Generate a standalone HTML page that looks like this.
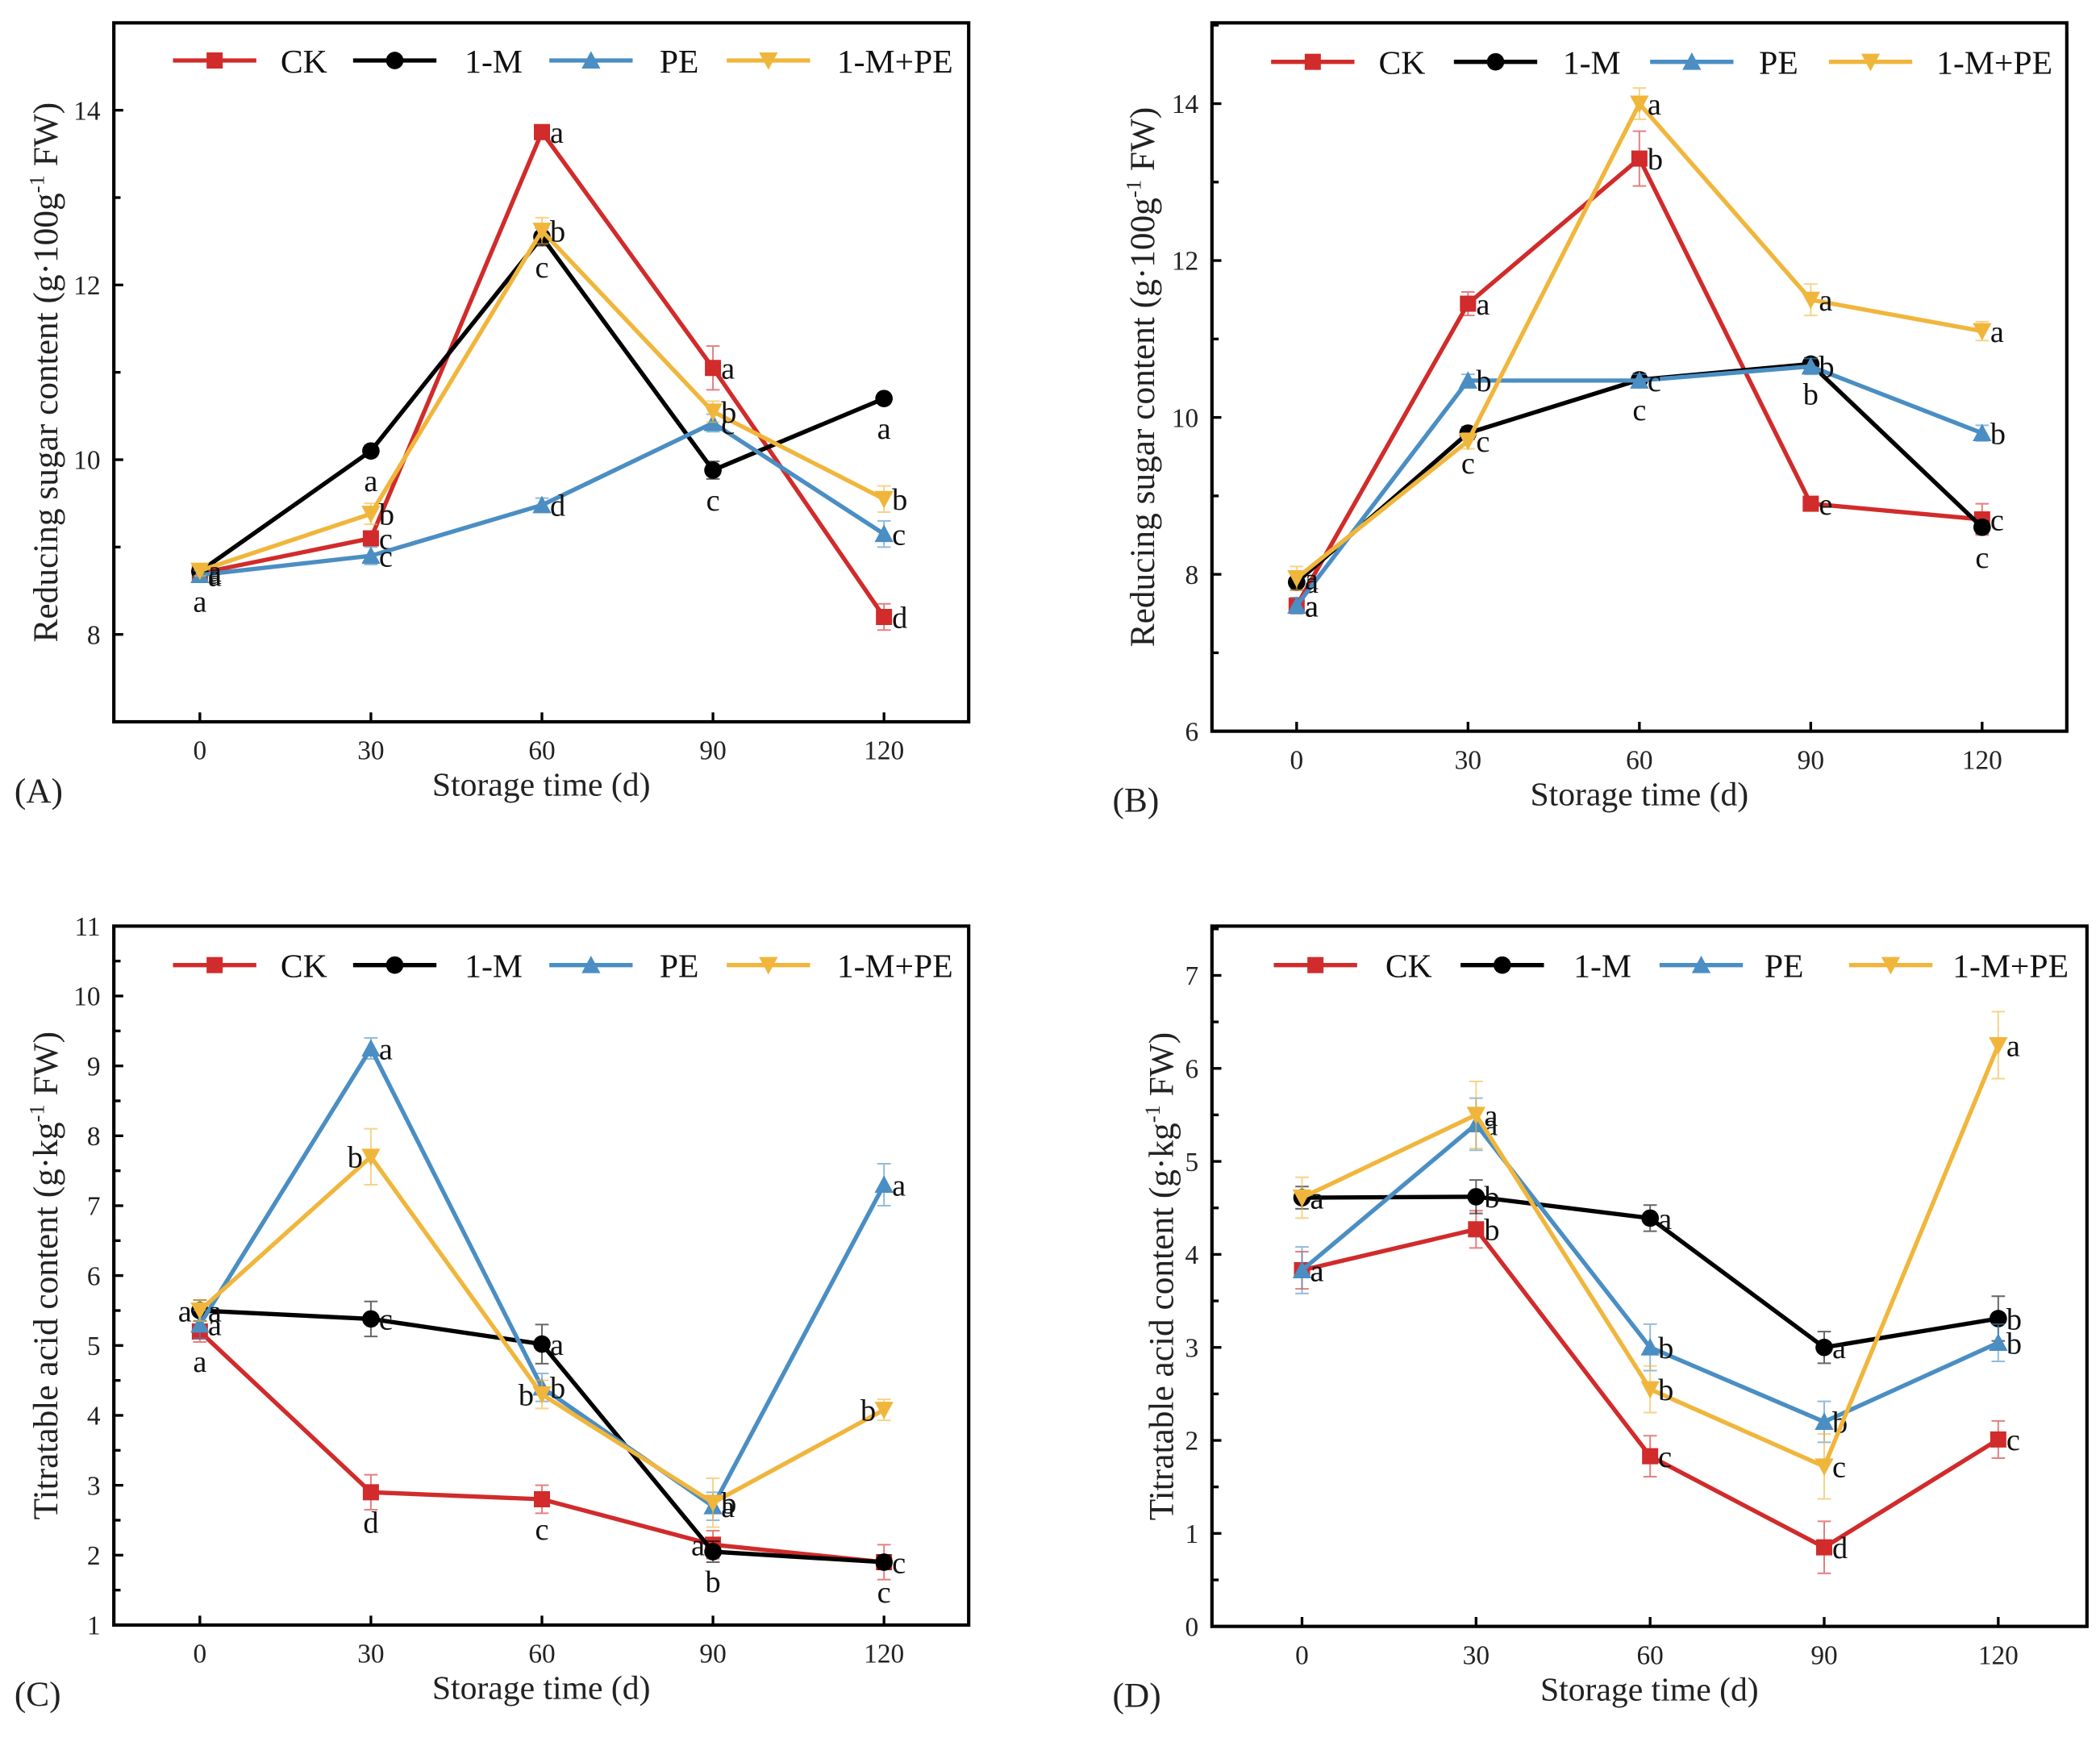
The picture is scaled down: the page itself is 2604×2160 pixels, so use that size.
<!DOCTYPE html>
<html><head><meta charset="utf-8"><style>
html,body{margin:0;padding:0;background:#fff;}
svg{display:block;}
text{font-family:"Liberation Serif","DejaVu Serif",serif;}
</style></head><body>
<svg id="fig" xmlns="http://www.w3.org/2000/svg" width="2604" height="2160" viewBox="0 0 1561 1296"></svg>
<script>
const seriesNames = ["CK","1-M","PE","1-M+PE"];
const days = [0,30,60,90,120];
const xTickLabels = ["0","30","60","90","120"];

const aCK = [8.70, 9.10, 13.75, 11.05, 8.20];
const aM  = [8.72, 10.10, 12.55, 9.88, 10.70];
const aPE = [8.68, 8.90, 9.48, 10.42, 9.15];
const aMP = [8.73, 9.38, 12.62, 10.55, 9.55];
const aErr = [[0.05,0.08,0.06,0.25,0.15],[0.05,0.06,0.1,0.1,0.06],[0.05,0.1,0.08,0.1,0.15],[0.06,0.12,0.15,0.12,0.15]];
const aLetters = [["a","c","a","a","d"],["a","a","c","c","a"],["a","c","d","c","c"],["a","b","b","b","b"]];
const aPos = [["r","r","r","r","r"],["b","b","b","b","b"],["r","r","r","r","r"],["r","r","r","r","r"]];

const bCK = [7.60, 11.45, 13.30, 8.90, 8.70];
const bM  = [7.90, 9.80, 10.48, 10.68, 8.60];
const bPE = [7.60, 10.47, 10.47, 10.65, 9.80];
const bMP = [7.95, 9.70, 14.00, 11.50, 11.10];
const bErr = [[0.1,0.15,0.35,0.08,0.2],[0.1,0.08,0.08,0.08,0.08],[0.1,0.08,0.08,0.1,0.1],[0.15,0.1,0.2,0.2,0.12]];
const bLetters = [["a","a","b","e","c"],["a","c","c","b","c"],["a","b","c","b","b"],["a","c","a","a","a"]];
const bPos = [["r","r","r","r","r"],["r","b","b","b","b"],["r","r","r","r","r"],["r","r","r","r","r"]];

const cCK = [5.20, 2.90, 2.80, 2.15, 1.90];
const cM  = [5.50, 5.38, 5.02, 2.05, 1.90];
const cPE = [5.30, 9.25, 4.40, 2.70, 7.30];
const cMP = [5.50, 7.70, 4.30, 2.75, 4.08];
const cErr = [[0.15,0.25,0.2,0.2,0.25],[0.15,0.25,0.28,0.15,0.1],[0.2,0.15,0.2,0.2,0.3],[0.15,0.4,0.2,0.35,0.15]];
const cLetters = [["a","d","c","a","c"],["a","c","a","b","c"],["a","a","b","a","a"],["a","b","b","b","b"]];
const cPos = [["b","b","b","l","b"],["l","r","r","b","r"],["r","r","r","r","r"],["r","l","l","r","l"]];

const dCK = [3.83, 4.27, 1.83, 0.85, 2.01];
const dM  = [4.61, 4.62, 4.39, 3.00, 3.31];
const dPE = [3.83, 5.40, 3.00, 2.20, 3.05];
const dMP = [4.61, 5.50, 2.55, 1.72, 6.25];
const dErr = [[0.2,0.2,0.22,0.28,0.2],[0.12,0.18,0.14,0.17,0.24],[0.25,0.28,0.25,0.22,0.2],[0.22,0.36,0.25,0.35,0.36]];
const dLetters = [["a","b","c","d","c"],["a","b","a","a","b"],["a","a","b","b","b"],["a","a","b","c","a"]];
const dPos = [["r","r","r","r","r"],["r","r","r","r","r"],["r","r","r","r","r"],["r","r","r","r","r"]];

const colors = ["#d12b2b","#000000","#4a8ec3","#f0b63c"];
const markers = ["square","circle","up","down"];
const NS = "http://www.w3.org/2000/svg";
const svg = document.getElementById('fig');

function mk(tag, attrs, parent){
  const e = document.createElementNS(NS, tag);
  for (const k in attrs) e.setAttribute(k, attrs[k]);
  (parent||svg).appendChild(e);
  return e;
}
function marker(g, type, x, y, c){
  let e;
  if(type==="square") e = mk('rect',{x:x-6,y:y-6,width:12,height:12,fill:c},g);
  else if(type==="circle") e = mk('circle',{cx:x,cy:y,r:6.5,fill:c},g);
  else if(type==="up") e = mk('polygon',{points:`${x},${y-7} ${x+7},${y+6} ${x-7},${y+6}`,fill:c},g);
  else e = mk('polygon',{points:`${x-7},${y-6} ${x+7},${y-6} ${x},${y+7}`,fill:c},g);
  return e;
}

function panel(p){
  const g = mk('g',{});
  
  
  const xs = v => p.x0 + (v-days[0])/(days[4]-days[0])*(p.x120-p.x0);
  const ys = v => p.B - (v-p.ymin)/(p.ymax-p.ymin)*(p.B-p.T);
  const fr = mk('rect',{x:p.L,y:p.T,width:p.R-p.L,height:p.B-p.T,fill:'none',stroke:'#000','stroke-width':2.5},g);
  
  
  for(let v=p.ymin; v<=p.ymax+1e-9; v+=p.minor){
    const major = p.majorLabels.includes(+v.toFixed(2));
    mk('line',{x1:p.L,x2:p.L+(major?7:5),y1:ys(v),y2:ys(v),stroke:'#000','stroke-width':2},g);
  }
  p.majorLabels.forEach(v=>{
    const t = mk('text',{x:p.L-10,y:ys(v)+7,'text-anchor':'end','font-size':20,fill:'#222'},g);
    t.textContent = String(v);
    
    
  });
  days.forEach((d,i)=>{
    mk('line',{x1:xs(d),x2:xs(d),y1:p.B,y2:p.B-7,stroke:'#000','stroke-width':2},g);
    const t = mk('text',{x:xs(d),y:p.B+28,'text-anchor':'middle','font-size':20,fill:'#222'},g);
    t.textContent = xTickLabels[i];
    
    
  });
  const xt = mk('text',{x:(p.L+p.R)/2,y:p.B+55,'text-anchor':'middle','font-size':25,fill:'#222'},g);
  xt.textContent = 'Storage time (d)';
  
  
  const yc = (p.T+p.B)/2;
  const yt = mk('text',{x:p.ytx,y:yc,'text-anchor':'middle','font-size':26,fill:'#222',transform:`rotate(-90 ${p.ytx} ${yc})`},g);
  yt.innerHTML = p.ytitle;
  
  
  const pl = mk('text',{x:p.L-74,y:p.B+60,'font-size':26,fill:'#222'},g);
  pl.textContent = p.label;
  
  
  p.data.forEach((vals,s)=>{
    const sg = mk('g',{},g);
    
    
    vals.forEach((v,i)=>{
      const e = p.err[s][i], x = xs(days[i]);
      mk('path',{d:`M${x},${ys(v-e)}V${ys(v+e)}M${x-5},${ys(v-e)}H${x+5}M${x-5},${ys(v+e)}H${x+5}`,stroke:colors[s],'stroke-width':1.2,fill:'none',opacity:0.6},sg);
    });
    const ln = mk('polyline',{points:vals.map((v,i)=>xs(days[i])+','+ys(v)).join(' '),fill:'none',stroke:colors[s],'stroke-width':3.2},sg);
    
    
    vals.forEach((v,i)=>{
      const m = marker(sg, markers[s], xs(days[i]), ys(v), colors[s]);
      
      
      const pos = p.pos[s][i];
      let tx = xs(days[i]), ty = ys(v);
      let anchor='start';
      if(pos==='r'){tx+=6; ty+=8;}
      else if(pos==='l'){tx-=6; ty+=8; anchor='end';}
      else {ty+=30; anchor='middle';}
      const lt = mk('text',{x:tx,y:ty,'text-anchor':anchor,'font-size':23,fill:'#111'},sg);
      lt.textContent = p.letters[s][i];
      
      
    });
  });
  const lg = mk('g',{},g);
  
  
  p.leg.forEach((lx,s)=>{
    const eg = mk('g',{},lg);
    
    
    mk('line',{x1:lx,x2:lx+62,y1:p.legY,y2:p.legY,stroke:colors[s],'stroke-width':3.2},eg);
    marker(eg, markers[s], lx+31, p.legY, colors[s]);
    const t = mk('text',{x:p.legT[s],y:p.legY+9,'font-size':25,fill:'#111'},eg);
    t.textContent = seriesNames[s];
  });
}

const ytRS = 'Reducing sugar content (g·100g<tspan dy="-10" font-size="16">-1</tspan><tspan dy="10"> FW)</tspan>';
const ytTA = 'Titratable acid content (g·kg<tspan dy="-10" font-size="16">-1</tspan><tspan dy="10"> FW)</tspan>';

panel({name:'panel-a',label:'(A)',L:84,R:720,T:17,B:537,x0:148,x120:657,ymin:7,ymax:15,minor:1,major:2,majorLabels:[8,10,12,14],
  data:[aCK,aM,aPE,aMP],err:aErr,letters:aLetters,pos:aPos,ytitle:ytRS,ytx:42,
  leg:[128,262,408,540],legT:[208,345,490,622],legY:45});
panel({name:'panel-b',label:'(B)',L:901,R:1537,T:17,B:544,x0:964,x120:1474,ymin:6,ymax:15.03,minor:1,major:2,majorLabels:[6,8,10,12,14],
  data:[bCK,bM,bPE,bMP],err:bErr,letters:bLetters,pos:bPos,ytitle:ytRS,ytx:858,
  leg:[945,1081,1227,1360],legT:[1025,1162,1308,1440],legY:46});
panel({name:'panel-c',label:'(C)',L:84,R:720,T:689,B:1209,x0:148,x120:657,ymin:1,ymax:11,minor:0.5,major:1,majorLabels:[1,2,3,4,5,6,7,8,9,10,11],
  data:[cCK,cM,cPE,cMP],err:cErr,letters:cLetters,pos:cPos,ytitle:ytTA,ytx:42,
  leg:[128,262,408,540],legT:[208,345,490,622],legY:718});
panel({name:'panel-d',label:'(D)',L:901,R:1552,T:689,B:1210,x0:968,x120:1486,ymin:0,ymax:7.53,minor:0.5,major:1,majorLabels:[0,1,2,3,4,5,6,7],
  data:[dCK,dM,dPE,dMP],err:dErr,letters:dLetters,pos:dPos,ytitle:ytTA,ytx:872,
  leg:[947,1086,1234,1375],legT:[1030,1170,1312,1452],legY:718});
</script>
</body></html>
